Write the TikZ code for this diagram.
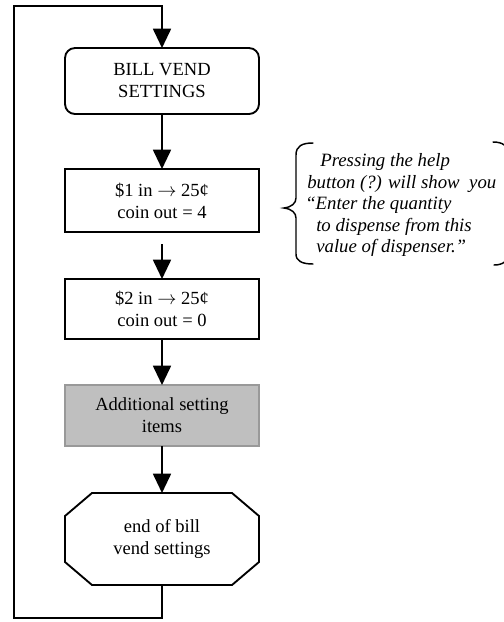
\documentclass[tikz,border=0pt]{standalone}
\usepackage{fontspec}
\setmainfont{Liberation Serif}
\usetikzlibrary{arrows.meta}
\begin{document}
\begin{tikzpicture}[x=0.75pt,y=-0.75pt,
  box/.style={draw, line width=1.4pt, minimum width=145.5pt, inner sep=0pt, outer sep=0pt,
    align=center, font=\fontsize{13.9}{16.5}\selectfont},
  arr/.style={line width=1.4pt, line join=miter, -{Triangle[length=14.5pt,width=13.5pt]}},
  note/.style={anchor=base west, inner sep=0pt, font=\fontsize{14.1}{16}\selectfont\itshape},
  brace/.style={line width=1.1pt, line cap=round}]
\useasboundingbox (0,0) rectangle (504,622);

% flow nodes
\node[box, rounded corners=7.5pt, minimum height=49.5pt] (bill) at (162,81) {BILL VEND\\SETTINGS};
\node[box, minimum height=47.25pt] (one) at (162,200.5) {\$1 in $\rightarrow$ 25¢\\coin out = 4};
\node[box, minimum height=45pt] (two) at (162,309) {\$2 in $\rightarrow$ 25¢\\coin out = 0};
\node[box, draw=gray!80, fill=gray!50, minimum height=45.75pt] (add) at (162,415.5) {Additional setting\\items};
\node[box, draw=none, minimum height=69pt] (end) at (162,539) {end of bill\\vend settings};
\draw[line width=1.4pt]
  ([xshift=20.25pt]end.north west) -- ([xshift=-20.25pt]end.north east)
  -- ([yshift=-17.25pt]end.north east) -- ([yshift=17.25pt]end.south east)
  -- ([xshift=-20.25pt]end.south east) -- ([xshift=20.25pt]end.south west)
  -- ([yshift=17.25pt]end.south west) -- ([yshift=-17.25pt]end.north west) -- cycle;

% connectors
\draw[arr] (bill.south) -- (one.north);
\coordinate (gap) at ([yshift=-9pt]one.south);
\draw[arr] (gap) -- (two.north);
\draw[arr] (two.south) -- (add.north);
\draw[arr] (add.south) -- (end.north);

% loop back
\coordinate (tl) at (14,6);
\coordinate (bl) at (14,618);
\draw[arr] (end.south) -- (end.south |- bl) -- (bl) -- (tl) -- (bill.north |- tl) -- (bill.north);

% note text
\node[note] (n1) at (320,166) {Pressing the help};
\node[note] (n2) at (307,188) {button (?) will show\ \ you};
\node[note] (n3) at (305,209.5) {“Enter the quantity};
\node[note] (n4) at (316,231) {to dispense from this};
\node[note] (n5) at (316,252) {value of dispenser.”};

% braces
\draw[brace] (313,143) .. controls (302,143) and (296,146) .. (296,155) -- (296,198)
  .. controls (296,203) and (292,207) .. (284,208)
  .. controls (292,209) and (296,213) .. (296,218) -- (296,254)
  .. controls (296,261) and (302,264) .. (313,264);
\draw[brace] (493,142) .. controls (503,142) and (508,146) .. (508,154) -- (508,254)
  .. controls (508,261) and (503,265) .. (494,265);
\end{tikzpicture}
\end{document}
